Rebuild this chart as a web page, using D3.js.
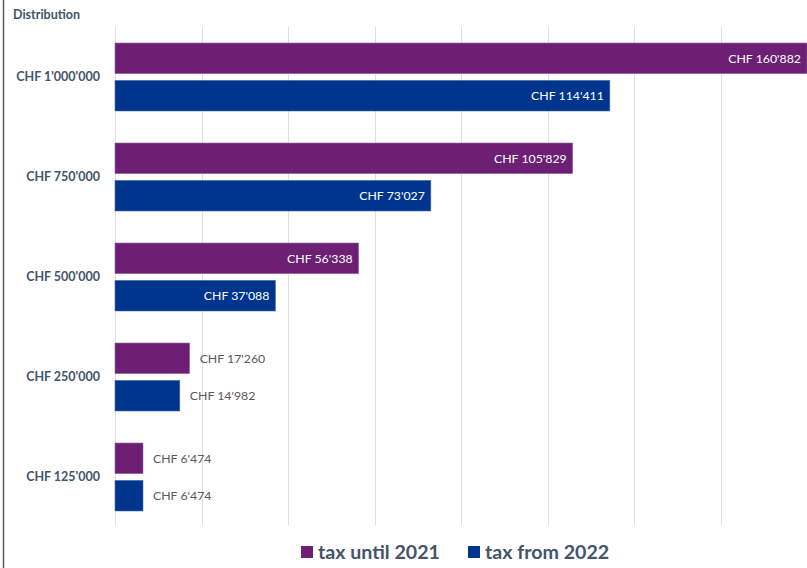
<!DOCTYPE html>
<html>
<head>
<meta charset="utf-8">
<script src="https://cdn.jsdelivr.net/npm/d3@7"></script>
<style>
  html, body { margin: 0; padding: 0; background: #fff; }
  svg { display: block; font-family: Lato, "Open Sans", sans-serif; }
</style>
</head>
<body>
<div id="chart"></div>
<script>
// values
const categories = ["CHF 1'000'000", "CHF 750'000", "CHF 500'000", "CHF 250'000", "CHF 125'000"];
const taxUntil2021 = [160882, 105829, 56338, 17260, 6474];
const taxFrom2022 = [114411, 73027, 37088, 14982, 6474];
const seriesNames = ["tax until 2021", "tax from 2022"];
const seriesColors = ["#6C1F74", "#00358E"];

const width = 807, height = 568;

const svg = d3.select("#chart").append("svg")
    .attr("width", width)
    .attr("height", height);

// left frame line
svg.append("line")
    .attr("x1", 3.5).attr("x2", 3.5)
    .attr("y1", 0).attr("y2", height)
    .attr("stroke", "#595959")
    .attr("stroke-width", 1.5);

svg.append("text")
    .attr("x", 13)
    .attr("y", 19)
    .attr("font-size", 12.5)
    .attr("font-weight", "bold")
    .attr("fill", "#44546A")
    .text("Distribution");

const x = d3.scaleLinear()
    .domain([0, 160000])
    .range([115, 807]);

const y = d3.scaleBand()
    .domain(categories)
    .range([27, 527]);

const inner = d3.scaleBand()
    .domain([0, 1])
    .range([16, 84])
    .paddingInner(0.18);

// vertical gridlines
svg.append("g")
    .selectAll("line")
    .data(x.ticks(8))
    .join("line")
    .attr("x1", d => Math.round(x(d)) + 0.5)
    .attr("x2", d => Math.round(x(d)) + 0.5)
    .attr("y1", 27)
    .attr("y2", 525)
    .attr("stroke", "#DCDFE6")
    .attr("stroke-width", 1);

// category labels
svg.append("g")
    .selectAll("text")
    .data(categories)
    .join("text")
    .attr("x", 100)
    .attr("y", d => y(d) + y.bandwidth() / 2)
    .attr("dy", "0.35em")
    .attr("text-anchor", "end")
    .attr("font-size", 12.5)
    .attr("font-weight", "bold")
    .attr("fill", "#44546A")
    .text(d => d);

const rows = [];
categories.forEach((c, i) => {
    rows.push({cat: c, s: 0, v: taxUntil2021[i]});
    rows.push({cat: c, s: 1, v: taxFrom2022[i]});
});

const fmt = v => "CHF " + d3.format(",")(v).replace(/,/g, "'");
const barLen = d => Math.min(x(d.v), width) - x(0);

const bars = svg.append("g");

bars.selectAll("rect")
    .data(rows)
    .join("rect")
    .attr("x", x(0))
    .attr("y", d => y(d.cat) + inner(d.s))
    .attr("width", barLen)
    .attr("height", inner.bandwidth())
    .attr("fill", d => seriesColors[d.s])
    .attr("stroke", d => d.s === 0 ? "#9A6AA0" : "#4B6FB5")
    .attr("stroke-width", 0.6);

bars.selectAll("text")
    .data(rows)
    .join("text")
    .attr("x", d => barLen(d) > 100 ? x(0) + barLen(d) - 6 : x(0) + barLen(d) + 10)
    .attr("y", d => y(d.cat) + inner(d.s) + inner.bandwidth() / 2)
    .attr("dy", "0.35em")
    .attr("text-anchor", d => barLen(d) > 100 ? "end" : "start")
    .attr("font-size", 12.3)
    .attr("fill", d => barLen(d) > 100 ? "#fff" : "#595959")
    .text(d => fmt(d.v));

// legend
const legend = svg.append("g");
const legendX = [301, 468];
seriesNames.forEach((n, i) => {
    legend.append("rect")
        .attr("x", legendX[i])
        .attr("y", 546)
        .attr("width", 12)
        .attr("height", 12)
        .attr("fill", seriesColors[i]);
    legend.append("text")
        .attr("x", legendX[i] + 17)
        .attr("y", 552)
        .attr("dy", "0.35em")
        .attr("font-size", 19.6)
        .attr("font-weight", "bold")
        .attr("fill", "#44546A")
        .text(n);
});
</script>
</body>
</html>
